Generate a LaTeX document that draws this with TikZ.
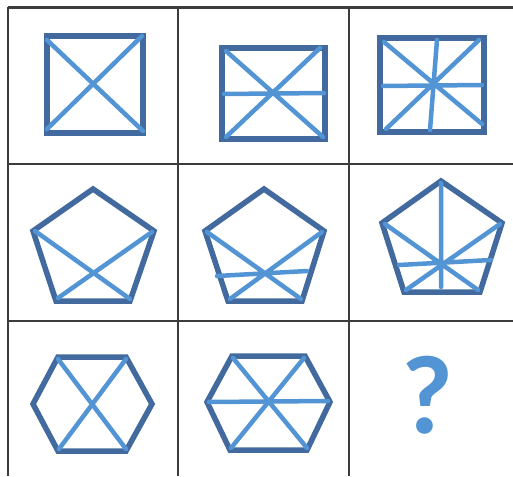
\documentclass[tikz,border=0pt]{standalone}
\usepackage{fontspec}
\setsansfont{Carlito}
\definecolor{edgeblue}{RGB}{66,106,158}
\definecolor{linkblue}{RGB}{82,148,212}
\definecolor{gridgray}{RGB}{60,60,60}
\begin{document}
\begin{tikzpicture}[x=1pt,y=-1pt,
  grid/.style={gridgray,line width=1.3pt},
  outline/.style={edgeblue,line width=5.5pt,line join=miter},
  link/.style={linkblue,line width=4.5pt,line cap=round}]
  \useasboundingbox (0,0) rectangle (513,476);
  \fill[white] (0,0) rectangle (513,476);
  % grid
  \draw[grid,line width=2.2pt] (8,7.5) -- (513,7.5);
  \draw[grid,line width=2pt] (8,164) -- (513,164);
  \draw[grid,line width=2pt] (8,321) -- (513,321);
  \draw[grid] (8,7) -- (8,476);
  \draw[grid] (178,7) -- (178,476);
  \draw[grid] (349,7) -- (349,476);
  % row 1: squares
  \draw[outline] (47,36) rectangle (143,133);
  \draw[link] (47,40) -- (143,131) (47,129) -- (142,36);
  \draw[outline] (222,48) rectangle (325,139);
  \draw[link] (226,51) -- (323,137) (226,137) -- (320,48) (224,94) -- (324,93);
  \draw[outline] (380,38) rectangle (484,132);
  \draw[link] (384,42) -- (482,124) (386,129) -- (479,40)
    (383,86) -- (482,85) (437,40) -- (430,130);
  % row 2: pentagons
  \draw[outline] (93,189) -- (154,231) -- (130,301) -- (56,301) -- (33,231) -- cycle;
  \draw[link] (35,231) -- (130,299) (152,232) -- (58,298);
  \draw[outline] (264,189) -- (324,231) -- (302,301) -- (228,301) -- (205,231) -- cycle;
  \draw[link] (207,232) -- (301,299) (322,232) -- (230,299) (217,276) -- (307,271);
  \draw[outline] (441,181) -- (502,223) -- (480,292) -- (404,292) -- (382,223) -- cycle;
  \draw[link] (441,183) -- (441,287) (385,224) -- (478,290) (500,224) -- (406,290)
    (399,265) -- (491,260);
  % row 3: hexagons
  \draw[outline] (58,357) -- (126,357) -- (152,404) -- (126,451) -- (58,451) -- (33,404) -- cycle;
  \draw[link] (58,359) -- (126,449) (126,359) -- (59,449);
  \draw[outline] (232,356) -- (305,356) -- (330,402) -- (307,450) -- (230,450) -- (207,402) -- cycle;
  \draw[link] (233,358) -- (307,448) (304,358) -- (231,448) (209,402) -- (328,401);
  \node[linkblue,font=\sffamily\bfseries\fontsize{112}{112}\selectfont,inner sep=0pt] (query) at (427,395) {?};
\end{tikzpicture}
\end{document}
